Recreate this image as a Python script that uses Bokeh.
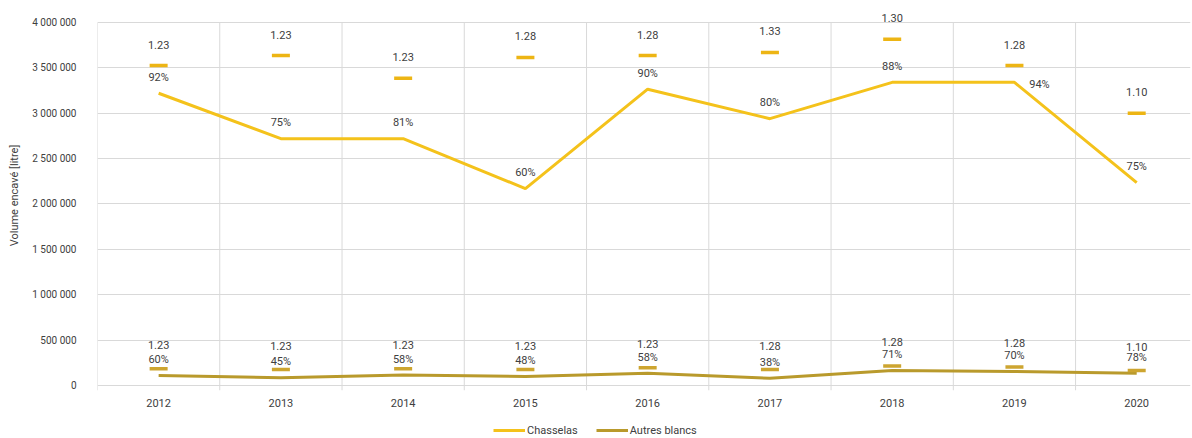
from bokeh.plotting import figure
from bokeh.layouts import column
from bokeh.core.properties import value
from bokeh.models import ColumnDataSource, Range1d, FixedTicker, LabelSet, Legend, LegendItem
from bokeh.embed import file_html
from bokeh.resources import INLINE

# ---- data ----
years = [2012, 2013, 2014, 2015, 2016, 2017, 2018, 2019, 2020]
chasselas_volume = [3220000, 2720000, 2720000, 2170000, 3265000, 2940000, 3340000, 3340000, 2235000]
chasselas_pct = ["92%", "75%", "81%", "60%", "90%", "80%", "88%", "94%", "75%"]
chasselas_marker = [3525000, 3635000, 3385000, 3615000, 3635000, 3670000, 3815000, 3525000, 3000000]
chasselas_price = ["1.23", "1.23", "1.23", "1.28", "1.28", "1.33", "1.30", "1.28", "1.10"]
autres_volume = [110000, 85000, 115000, 100000, 135000, 80000, 165000, 155000, 135000]
autres_pct = ["60%", "45%", "58%", "48%", "58%", "38%", "71%", "70%", "78%"]
autres_marker = [185000, 175000, 185000, 175000, 195000, 175000, 215000, 205000, 165000]
autres_price = ["1.23", "1.23", "1.23", "1.23", "1.23", "1.28", "1.28", "1.28", "1.10"]
y_ticks = [0, 500000, 1000000, 1500000, 2000000, 2500000, 3000000, 3500000, 4000000]
y_tick_labels = ["0", "500 000", "1 000 000", "1 500 000", "2 000 000", "2 500 000",
                 "3 000 000", "3 500 000", "4 000 000"]
y_title = "Volume encavé [litre]"
series_names = ["Chasselas", "Autres blancs"]

FONT = "Roboto"
TXT = "#404040"
GRID = "#d9d9d9"
C_YEL = "#F4C21B"
C_YEL_MK = "#EDB514"
C_GOLD = "#B99A2C"
C_GOLD_MK = "#CDA530"

y_min, y_max = -55000, 4242000
p = figure(width=1192, height=414, output_backend="svg", toolbar_location=None,
           x_range=Range1d(2011.5, 2020.44), y_range=Range1d(y_min, y_max),
           min_border_left=97, min_border_right=2, min_border_top=0, min_border_bottom=24)
p.outline_line_color = None
p.background_fill_color = "white"
p.border_fill_color = "white"

# axes
p.xaxis.ticker = FixedTicker(ticks=years)
p.xaxis.axis_line_color = None
p.xaxis.major_tick_line_color = None
p.xaxis.minor_tick_line_color = None
p.xaxis.major_label_standoff = 2
p.xaxis.major_label_text_font = FONT
p.xaxis.major_label_text_font_size = "11px"
p.xaxis.major_label_text_color = TXT

p.yaxis.ticker = FixedTicker(ticks=y_ticks)
p.yaxis.major_label_overrides = {t: l for t, l in zip(y_ticks, y_tick_labels)}
p.yaxis.axis_line_color = None
p.yaxis.major_tick_line_color = None
p.yaxis.minor_tick_line_color = None
p.yaxis.major_label_standoff = 15
p.yaxis.major_label_text_font = FONT
p.yaxis.major_label_text_font_size = "10px"
p.yaxis.major_label_text_color = TXT
p.yaxis.axis_label = y_title
p.yaxis.axis_label_text_font = FONT
p.yaxis.axis_label_text_font_size = "11px"
p.yaxis.axis_label_text_font_style = "normal"
p.yaxis.axis_label_text_color = TXT
p.yaxis.axis_label_standoff = 8

# grids: horizontal at ticks, vertical between categories (stopping at top tick)
p.ygrid.ticker = FixedTicker(ticks=y_ticks)
p.ygrid.grid_line_color = GRID
p.xgrid.visible = False
sep = [y - 0.5 for y in years]
p.segment(x0=sep, y0=[y_min] * len(sep), x1=sep, y1=[max(y_ticks)] * len(sep),
          line_color=GRID, line_width=1)

src_c = ColumnDataSource(dict(x=years, v=chasselas_volume, pct=chasselas_pct,
                              m=chasselas_marker, price=chasselas_price,
                              xo=[25 if y == 2019 else 0 for y in years],
                              yo=[-2 if y == 2019 else 16 for y in years]))
src_a = ColumnDataSource(dict(x=years, v=autres_volume, pct=autres_pct,
                              m=autres_marker, price=autres_price))

r_c = p.line("x", "v", source=src_c, line_color=C_YEL, line_width=3)
r_a = p.line("x", "v", source=src_a, line_color=C_GOLD, line_width=3)
p.scatter("x", "m", source=src_c, marker="dash", size=18, line_width=3.5, line_color=C_YEL_MK)
p.scatter("x", "m", source=src_a, marker="dash", size=18, line_width=3.5, line_color=C_GOLD_MK)

common = dict(text_font=value(FONT), text_font_size=value("11px"), text_color=TXT,
              text_align="center", text_baseline="middle")
p.add_layout(LabelSet(x="x", y="v", text="pct", source=src_c, x_offset="xo", y_offset="yo", **common))
p.add_layout(LabelSet(x="x", y="m", text="price", source=src_c, y_offset=21, **common))
p.add_layout(LabelSet(x="x", y="v", text="pct", source=src_a, y_offset=16, **common))
p.add_layout(LabelSet(x="x", y="m", text="price", source=src_a, y_offset=24, **common))

# legend strip below the chart
p2 = figure(width=1192, height=24, output_backend="svg", toolbar_location=None,
            x_range=Range1d(0, 1), y_range=Range1d(0, 1),
            x_axis_location=None, y_axis_location=None, min_border=0)
p2.outline_line_color = None
p2.xgrid.visible = False
p2.ygrid.visible = False
l_c = p2.line(years, chasselas_volume, line_color=C_YEL, line_width=3)
l_a = p2.line(years, autres_volume, line_color=C_GOLD, line_width=3)
legend = Legend(items=[LegendItem(label=series_names[0], renderers=[l_c]),
                       LegendItem(label=series_names[1], renderers=[l_a])],
                orientation="horizontal", location=(396, 1),
                label_text_font=FONT, label_text_font_size="11px", label_text_color=TXT,
                glyph_width=32, glyph_height=14, label_height=14, label_standoff=2,
                spacing=18, padding=0, margin=0, border_line_color=None,
                background_fill_alpha=0)
p2.add_layout(legend, "center")

layout = column(p, p2, spacing=0)
open("out.html", "w").write(file_html(layout, INLINE))
